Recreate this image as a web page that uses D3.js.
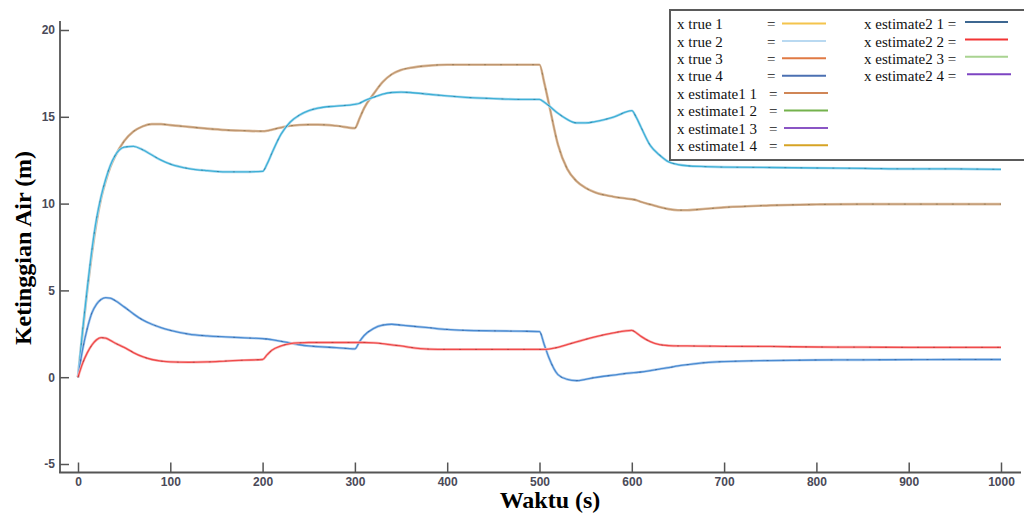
<!DOCTYPE html>
<html>
<head>
<meta charset="utf-8">
<script src="https://cdn.jsdelivr.net/npm/d3@7"></script>
<style>
  html, body { margin: 0; padding: 0; background: #ffffff; }
  svg { display: block; }
</style>
</head>
<body>
<svg id="chart" width="1024" height="520"></svg>
<script>
// Simulation time (s)
const times = [0,5,10,15,20,25,30,35,40,50,60,70,80,90,100,120,140,160,180,200,
  205,210,220,230,240,250,260,280,300,305,310,320,330,340,350,360,380,400,420,450,480,500,
  505,510,520,530,540,550,560,580,600,605,610,620,630,640,650,660,680,700,750,800,850,900,950,1000];

// Water level of each tank (m)
const level1 = [0,2.6,5.0,7.1,8.9,10.3,11.3,12.1,12.7,13.6,14.15,14.45,14.58,14.58,14.52,14.42,14.32,14.24,14.2,14.17,
  14.2,14.26,14.38,14.48,14.53,14.55,14.55,14.48,14.35,14.9,15.5,16.3,17.0,17.45,17.7,17.82,17.95,18.0,18.0,18.0,18.0,18.0,
  17.0,15.8,13.4,12.0,11.3,10.9,10.65,10.4,10.25,10.2,10.1,9.95,9.8,9.68,9.62,9.62,9.7,9.78,9.9,9.95,9.97,9.97,9.97,9.97];

const level2 = [0,2.7,5.1,7.3,9.1,10.4,11.4,12.2,12.75,13.25,13.3,13.1,12.8,12.5,12.28,12.02,11.9,11.83,11.83,11.86,
  12.3,12.9,14.0,14.7,15.1,15.35,15.5,15.62,15.72,15.78,15.92,16.12,16.3,16.4,16.42,16.4,16.3,16.2,16.12,16.05,16.0,16.0,
  15.85,15.65,15.2,14.85,14.65,14.65,14.72,14.98,15.35,14.95,14.4,13.35,12.8,12.4,12.25,12.18,12.13,12.1,12.08,12.05,12.03,12.0,12.0,11.97];

const level3 = [0,1.6,2.8,3.7,4.2,4.48,4.58,4.55,4.42,4.05,3.65,3.3,3.05,2.85,2.7,2.48,2.38,2.32,2.27,2.22,
  2.2,2.16,2.07,1.97,1.87,1.8,1.76,1.7,1.63,2.05,2.4,2.8,3.0,3.05,3.0,2.95,2.85,2.75,2.7,2.67,2.65,2.63,
  1.9,1.15,0.15,-0.12,-0.2,-0.12,-0.02,0.12,0.25,0.27,0.3,0.38,0.47,0.55,0.65,0.72,0.84,0.9,0.96,0.99,1.0,1.01,1.02,1.02];

const level4 = [0,0.8,1.4,1.85,2.15,2.28,2.25,2.12,1.97,1.72,1.42,1.18,1.02,0.93,0.88,0.86,0.88,0.93,0.98,1.02,
  1.3,1.55,1.8,1.93,1.98,2.0,2.0,2.0,2.0,2.0,2.0,1.98,1.93,1.86,1.8,1.72,1.62,1.6,1.6,1.6,1.6,1.6,
  1.6,1.62,1.72,1.88,2.03,2.18,2.32,2.55,2.7,2.55,2.35,2.05,1.88,1.82,1.8,1.8,1.79,1.78,1.77,1.74,1.73,1.72,1.72,1.72];

// Axis ticks
const xTicks = [0,100,200,300,400,500,600,700,800,900,1000];
const yTicks = [-5,0,5,10,15,20];

// Legend entries (two columns)
const legendCol1 = ["x true 1","x true 2","x true 3","x true 4","x estimate1 1","x estimate1 2","x estimate1 3","x estimate1 4"];
const legendCol1Colors = ["#f4c44c","#b9d9f1","#e07a44","#4b70b2","#d08656","#74b24c","#8a55c4","#d6a324"];
const legendCol2 = ["x estimate2 1","x estimate2 2","x estimate2 3","x estimate2 4"];
const legendCol2Colors = ["#3d6791","#f23434","#a9d391","#7d44c2"];

const svg = d3.select("#chart");

const x = d3.scaleLinear().domain([0, 1000]).range([78, 1001]);
const y = d3.scaleLinear().domain([-5, 20]).range([464, 30]);

const axisColor = "#555555";
const tickFont = "'Liberation Sans', Arial, sans-serif";
const plainNumber = d => String(d);

// Spines
svg.append("line").attr("x1", 60).attr("x2", 60).attr("y1", 21).attr("y2", 473)
  .attr("stroke", axisColor).attr("stroke-width", 1.8);
svg.append("line").attr("x1", 59.1).attr("x2", 1021).attr("y1", 472.5).attr("y2", 472.5)
  .attr("stroke", axisColor).attr("stroke-width", 1.8);

// Y axis
const gy = svg.append("g").attr("transform", "translate(60,0)")
  .call(d3.axisLeft(y).tickValues(yTicks).tickFormat(plainNumber)
    .tickSizeInner(-9).tickSizeOuter(0).tickPadding(5));
gy.select(".domain").remove();
gy.selectAll(".tick line").attr("stroke", axisColor).attr("stroke-width", 1.5);
gy.selectAll(".tick text").attr("fill", "#4a4a58").attr("font-family", tickFont)
  .attr("font-size", 12).attr("font-weight", "bold");

// X axis
const gx = svg.append("g").attr("transform", "translate(0,472.5)")
  .call(d3.axisBottom(x).tickValues(xTicks).tickFormat(plainNumber)
    .tickSizeInner(-10).tickSizeOuter(0).tickPadding(5));
gx.select(".domain").remove();
gx.selectAll(".tick line").attr("stroke", axisColor).attr("stroke-width", 1.5);
gx.selectAll(".tick text").attr("fill", "#4a4a58").attr("font-family", tickFont)
  .attr("font-size", 12).attr("font-weight", "bold");

// Axis titles
svg.append("text")
  .attr("transform", "translate(31,248) rotate(-90)")
  .attr("text-anchor", "middle")
  .attr("font-family", "'Liberation Serif', 'Times New Roman', serif")
  .attr("font-weight", "bold").attr("font-size", 24).attr("fill", "#000")
  .text("Ketinggian Air (m)");

svg.append("text")
  .attr("x", 550).attr("y", 508)
  .attr("text-anchor", "middle")
  .attr("font-family", "'Liberation Serif', 'Times New Roman', serif")
  .attr("font-weight", "bold").attr("font-size", 24).attr("fill", "#000")
  .text("Waktu (s)");

// Curves: each tank shows the true level with both estimates layered on it
const line = d3.line()
  .x((d, i) => x(times[i]))
  .y(d => y(d))
  .curve(d3.curveMonotoneX);

const tanks = [
  { values: level1, halo: "#dfc2a4", core: "#bf9670", speck: "#5f5530" },
  { values: level2, halo: "#b2dcf0", core: "#3eb0d6", speck: "#24506e" },
  { values: level3, halo: "#b6d1ee", core: "#4a8bd2", speck: "#243f6e" },
  { values: level4, halo: "#f9bcbc", core: "#f04a4a", speck: "#7a2a2a" }
];

const plot = svg.append("g");
tanks.forEach(t => {
  plot.append("path").datum(t.values).attr("d", line)
    .attr("fill", "none").attr("stroke", t.halo).attr("stroke-width", 2.6)
    .attr("stroke-linejoin", "round");
  plot.append("path").datum(t.values).attr("d", line)
    .attr("fill", "none").attr("stroke", t.core).attr("stroke-width", 1.3)
    .attr("stroke-linejoin", "round");
  plot.append("path").datum(t.values).attr("d", line)
    .attr("fill", "none").attr("stroke", t.speck).attr("stroke-width", 1)
    .attr("stroke-opacity", 0.4).attr("stroke-dasharray", "2,14");
});

// Legend
const legend = svg.append("g");
legend.append("rect")
  .attr("x", 670).attr("y", 10).attr("width", 370).attr("height", 150)
  .attr("fill", "#ffffff").attr("stroke", "#5a5a5a").attr("stroke-width", 2);

const legFont = "'Liberation Serif', 'Times New Roman', serif";
const rowY = i => 24 + i * 17.4;

legendCol1.forEach((name, i) => {
  const cy = rowY(i);
  const isTrue = i < 4;
  legend.append("text").attr("x", 677).attr("y", cy).attr("dy", "0.35em")
    .attr("font-family", legFont).attr("font-size", 15).attr("fill", "#111").text(name);
  legend.append("text").attr("x", isTrue ? 767 : 769).attr("y", cy).attr("dy", "0.35em")
    .attr("font-family", legFont).attr("font-size", 15).attr("fill", "#111").text("=");
  legend.append("line")
    .attr("x1", isTrue ? 782 : 784).attr("x2", isTrue ? 826 : 828)
    .attr("y1", cy - 0.5).attr("y2", cy - 0.5)
    .attr("stroke", legendCol1Colors[i]).attr("stroke-width", 2);
});

legendCol2.forEach((name, i) => {
  const cy = rowY(i);
  legend.append("text").attr("x", 864).attr("y", cy).attr("dy", "0.35em")
    .attr("font-family", legFont).attr("font-size", 15).attr("fill", "#111").text(name + " =");
  legend.append("line")
    .attr("x1", i === 3 ? 967 : 965).attr("x2", i === 3 ? 1011 : 1008)
    .attr("y1", cy - 2).attr("y2", cy - 2)
    .attr("stroke", legendCol2Colors[i]).attr("stroke-width", 2);
});
</script>
</body>
</html>
